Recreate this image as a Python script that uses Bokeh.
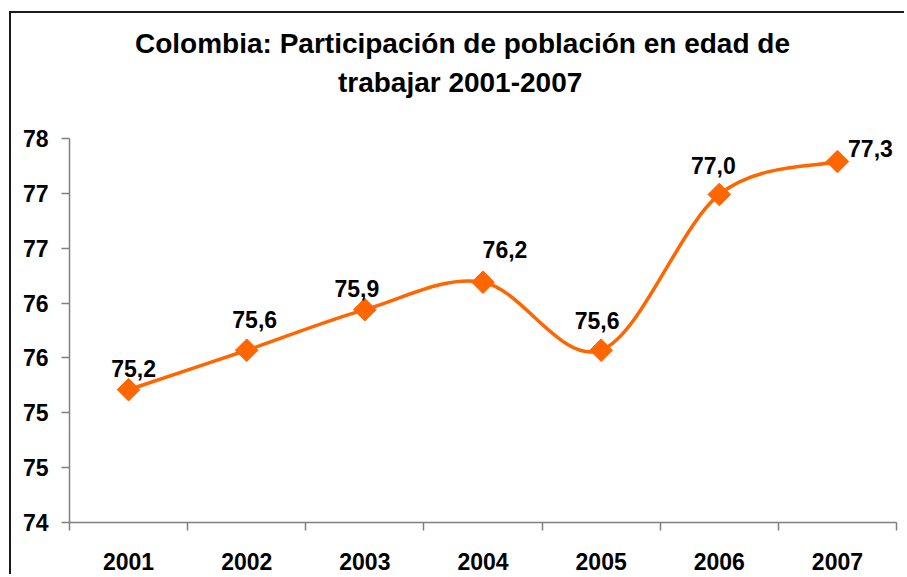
import numpy as np
from bokeh.plotting import figure
from bokeh.models import Range1d, FixedTicker, ColumnDataSource, Label
from bokeh.core.properties import value
from bokeh.embed import file_html
from bokeh.resources import INLINE

# ---- data ----
years = ["2001", "2002", "2003", "2004", "2005", "2006", "2007"]
values = [75.21, 75.57, 75.94, 76.19, 75.57, 76.99, 77.29]
y_ticks = [74.0, 74.5, 75.0, 75.5, 76.0, 76.5, 77.0, 77.5]
title_line1 = "Colombia: Participación de población en edad de"
title_line2 = "trabajar  2001-2007"

# ---- label styling (screen offsets of the data labels) ----
label_dx = [5, 8, -8, 22, -4, -6, 33]
label_dy = [-21, -31, -21, -33, -30, -29, -13]

ORANGE = "#FF6600"
AXIS_GRAY = "#808080"
FONT = "Liberation Sans"

xs = list(range(1, len(years) + 1))
labels = [f"{v:.1f}".replace(".", ",") for v in values]

# smooth line (Excel-like) drawn as cubic Bezier segments through the data points
px = np.array(xs, dtype=float)
py = np.array(values, dtype=float)
n = len(px)
x0, y0, x1, y1, cx0, cy0, cx1, cy1 = ([] for _ in range(8))
for i in range(n - 1):
    im1 = max(i - 1, 0)
    ip2 = min(i + 2, n - 1)
    x0.append(px[i]); y0.append(py[i])
    x1.append(px[i + 1]); y1.append(py[i + 1])
    cx0.append(px[i] + (px[i + 1] - px[im1]) / 6.0)
    cy0.append(py[i] + (py[i + 1] - py[im1]) / 6.0)
    cx1.append(px[i + 1] - (px[ip2] - px[i]) / 6.0)
    cy1.append(py[i + 1] - (py[ip2] - py[i]) / 6.0)
curve = ColumnDataSource(dict(x0=x0, y0=y0, x1=x1, y1=y1, cx0=cx0, cy0=cy0, cx1=cx1, cy1=cy1))
pts = ColumnDataSource(dict(x=xs, y=values, lab=labels, dx=label_dx, dy=label_dy))

# ---- layout (pixels inside the figure) ----
W, H = 895, 563
PLOT_LEFT, PLOT_TOP, PLOT_W, PLOT_H = 58, 125, 827, 384   # axes area
y_lo, y_hi = y_ticks[0], y_ticks[-1]
units_per_px = (y_hi - y_lo) / PLOT_H
# the frame reaches up to the canvas top so the title can live inside it;
# the y axis line is bounded to the real value range
y_top = y_hi + PLOT_TOP * units_per_px
x_lo, x_hi = 0.5, len(years) + 0.5
x_per_px = (x_hi - x_lo) / PLOT_W

p = figure(
    width=W, height=H, title=None, tools="",
    x_range=Range1d(x_lo, x_hi),
    y_range=Range1d(y_lo, y_top),
    output_backend="svg", toolbar_location=None,
    min_border_left=PLOT_LEFT, min_border_right=W - PLOT_LEFT - PLOT_W,
    min_border_top=0, min_border_bottom=H - PLOT_TOP - PLOT_H,
    background_fill_color="white", border_fill_color="white",
)
p.toolbar.logo = None
p.styles = {"margin-left": "11px", "margin-top": "13px",
            "box-shadow": "-2px -2px 0px 0px #1a1a1a"}
p.outline_line_color = None
p.xgrid.visible = False
p.ygrid.visible = False

# two-line centred title (centre x in px, caps-centre y in px from the figure top)
for txt, cx, cy in [(title_line1, 393, 30), (title_line2, 394.5, 69)]:
    p.add_layout(Label(text=txt, x=x_lo + cx * x_per_px, y=y_top - cy * units_per_px,
                       text_align="center", text_baseline="middle",
                       text_font=FONT, text_font_size="28px", text_font_style="bold",
                       text_color="black"))

# x axis: category labels at centres, tick marks at boundaries
xa = p.xaxis[0]
xa.ticker = FixedTicker(ticks=xs, minor_ticks=[x - 0.5 for x in xs] + [xs[-1] + 0.5])
xa.major_label_overrides = {x: y for x, y in zip(xs, years)}
xa.major_tick_out = 0
xa.major_tick_in = 0
xa.minor_tick_out = 8
xa.minor_tick_in = 0
xa.minor_tick_line_color = AXIS_GRAY
xa.minor_tick_line_width = 1.5
xa.axis_line_color = AXIS_GRAY
xa.axis_line_width = 1.5
xa.major_label_standoff = 22
xa.major_label_text_font = FONT
xa.major_label_text_font_size = "23px"
xa.major_label_text_font_style = "bold"
xa.major_label_text_color = "black"

# y axis
ya = p.yaxis[0]
ya.ticker = FixedTicker(ticks=y_ticks, minor_ticks=[])
ya.bounds = (y_lo, y_hi)
ya.major_label_overrides = {t: str(int(t + 0.5)) for t in y_ticks}
ya.major_tick_out = 8
ya.major_tick_in = 0
ya.major_tick_line_color = AXIS_GRAY
ya.major_tick_line_width = 1.5
ya.axis_line_color = AXIS_GRAY
ya.axis_line_width = 1.5
ya.major_label_standoff = 13
ya.major_label_text_font = FONT
ya.major_label_text_font_size = "23px"
ya.major_label_text_font_style = "bold"
ya.major_label_text_color = "black"

# series
p.bezier(x0="x0", y0="y0", x1="x1", y1="y1", cx0="cx0", cy0="cy0", cx1="cx1", cy1="cy1",
         source=curve, line_color=ORANGE, line_width=3.5)
p.scatter(x="x", y="y", source=pts, marker="square", angle=np.pi / 4, size=16,
          fill_color=ORANGE, line_color=ORANGE)
p.text(x="x", y="y", text="lab", source=pts, x_offset="dx", y_offset="dy",
       text_align="center", text_baseline="middle",
       text_font=value(FONT), text_font_size="23px", text_font_style="bold",
       text_color="black")

open("out.html", "w").write(file_html(p, INLINE))
